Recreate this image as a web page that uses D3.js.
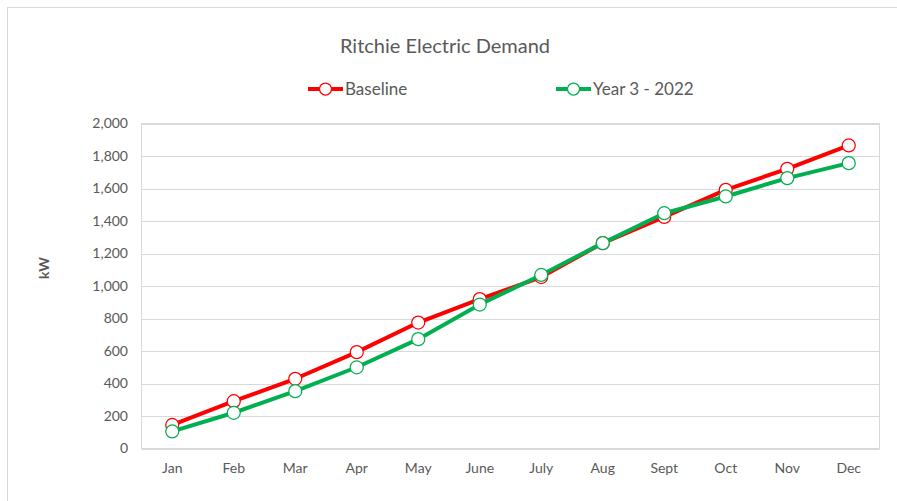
<!DOCTYPE html>
<html lang="en">
<head>
    <meta charset="UTF-8">
    <title>Ritchie Electric Demand</title>
    <style>
        body { margin: 0; background: #fff; }
        text { font-family: Lato, "Open Sans", sans-serif; fill: #595959; }
        .grid line { stroke: #d9d9d9; stroke-width: 1; }
        .tick-label { font-size: 14px; }
    </style>
</head>
<body>
    <svg width="897" height="501"></svg>
    <script src="https://cdn.jsdelivr.net/npm/d3@7"></script>
    <script>
        const months = ["Jan", "Feb", "Mar", "Apr", "May", "June", "July", "Aug", "Sept", "Oct", "Nov", "Dec"];
        const baseline = [145, 291, 429, 593, 775, 919, 1055, 1264, 1425, 1592, 1721, 1865];
        const year3 = [105, 220, 353, 500, 673, 886, 1068, 1264, 1448, 1551, 1664, 1756];
        const yTicks = [0, 200, 400, 600, 800, 1000, 1200, 1400, 1600, 1800, 2000];

        const svg = d3.select("svg");
        const plotLeft = 141.5, plotRight = 879.5, plotTop = 123.5, plotBottom = 448.5;

        // outer chart border
        svg.append("rect")
            .attr("x", 7.5).attr("y", 7.5)
            .attr("width", 900).attr("height", 500)
            .attr("fill", "none").attr("stroke", "#d9d9d9");

        const x = d3.scaleBand().domain(months).range([plotLeft, plotRight]);
        const y = d3.scaleLinear().domain([0, 2000]).range([plotBottom, plotTop]);

        const grid = svg.append("g").attr("class", "grid");
        grid.selectAll("line")
            .data(yTicks)
            .join("line")
            .attr("x1", plotLeft).attr("x2", plotRight)
            .attr("y1", d => Math.round(y(d)) + 0.5)
            .attr("y2", d => Math.round(y(d)) + 0.5);

        // plot area border
        svg.append("rect")
            .attr("x", plotLeft).attr("y", plotTop)
            .attr("width", plotRight - plotLeft).attr("height", plotBottom - plotTop)
            .attr("fill", "none").attr("stroke", "#d9d9d9");

        svg.append("g").selectAll("text")
            .data(yTicks)
            .join("text")
            .attr("class", "tick-label")
            .attr("x", 128)
            .attr("y", d => y(d))
            .attr("dy", "0.35em")
            .attr("text-anchor", "end")
            .text(d => d3.format(",")(d));

        svg.append("g").selectAll("text")
            .data(months)
            .join("text")
            .attr("class", "tick-label")
            .attr("x", d => x(d) + x.bandwidth() / 2)
            .attr("y", 473)
            .attr("text-anchor", "middle")
            .text(d => d);

        svg.append("text")
            .attr("transform", "translate(49,268) rotate(-90)")
            .attr("text-anchor", "middle")
            .attr("font-size", 14)
            .attr("font-weight", "bold")
            .text("kW");

        svg.append("text")
            .attr("x", 445).attr("y", 53)
            .attr("text-anchor", "middle")
            .attr("font-size", 20)
            .text("Ritchie Electric Demand");

        const series = [
            { name: "Baseline", values: baseline, color: "#ff0000", lx: 308 },
            { name: "Year 3 - 2022", values: year3, color: "#00b050", lx: 556 }
        ];

        const line = d3.line()
            .x((d, i) => x(months[i]) + x.bandwidth() / 2)
            .y(d => y(d));

        series.forEach(s => {
            svg.append("path")
                .datum(s.values)
                .attr("d", line)
                .attr("fill", "none")
                .attr("stroke", s.color)
                .attr("stroke-width", 4)
                .attr("stroke-linejoin", "round");

            svg.append("g").selectAll("circle")
                .data(s.values)
                .join("circle")
                .attr("cx", (d, i) => x(months[i]) + x.bandwidth() / 2)
                .attr("cy", d => y(d))
                .attr("r", 6.5)
                .attr("fill", "#fff")
                .attr("stroke", s.color)
                .attr("stroke-width", 1.25);

            // legend
            const lg = svg.append("g");
            lg.append("line")
                .attr("x1", s.lx).attr("x2", s.lx + 35)
                .attr("y1", 89).attr("y2", 89)
                .attr("stroke", s.color).attr("stroke-width", 4);
            lg.append("circle")
                .attr("cx", s.lx + 17.5).attr("cy", 89).attr("r", 6)
                .attr("fill", "#fff").attr("stroke", s.color).attr("stroke-width", 1.25);
            lg.append("text")
                .attr("x", s.lx + 37).attr("y", 89)
                .attr("dy", "0.35em")
                .attr("font-size", 17)
                .text(s.name);
        });
    </script>
</body>
</html>
